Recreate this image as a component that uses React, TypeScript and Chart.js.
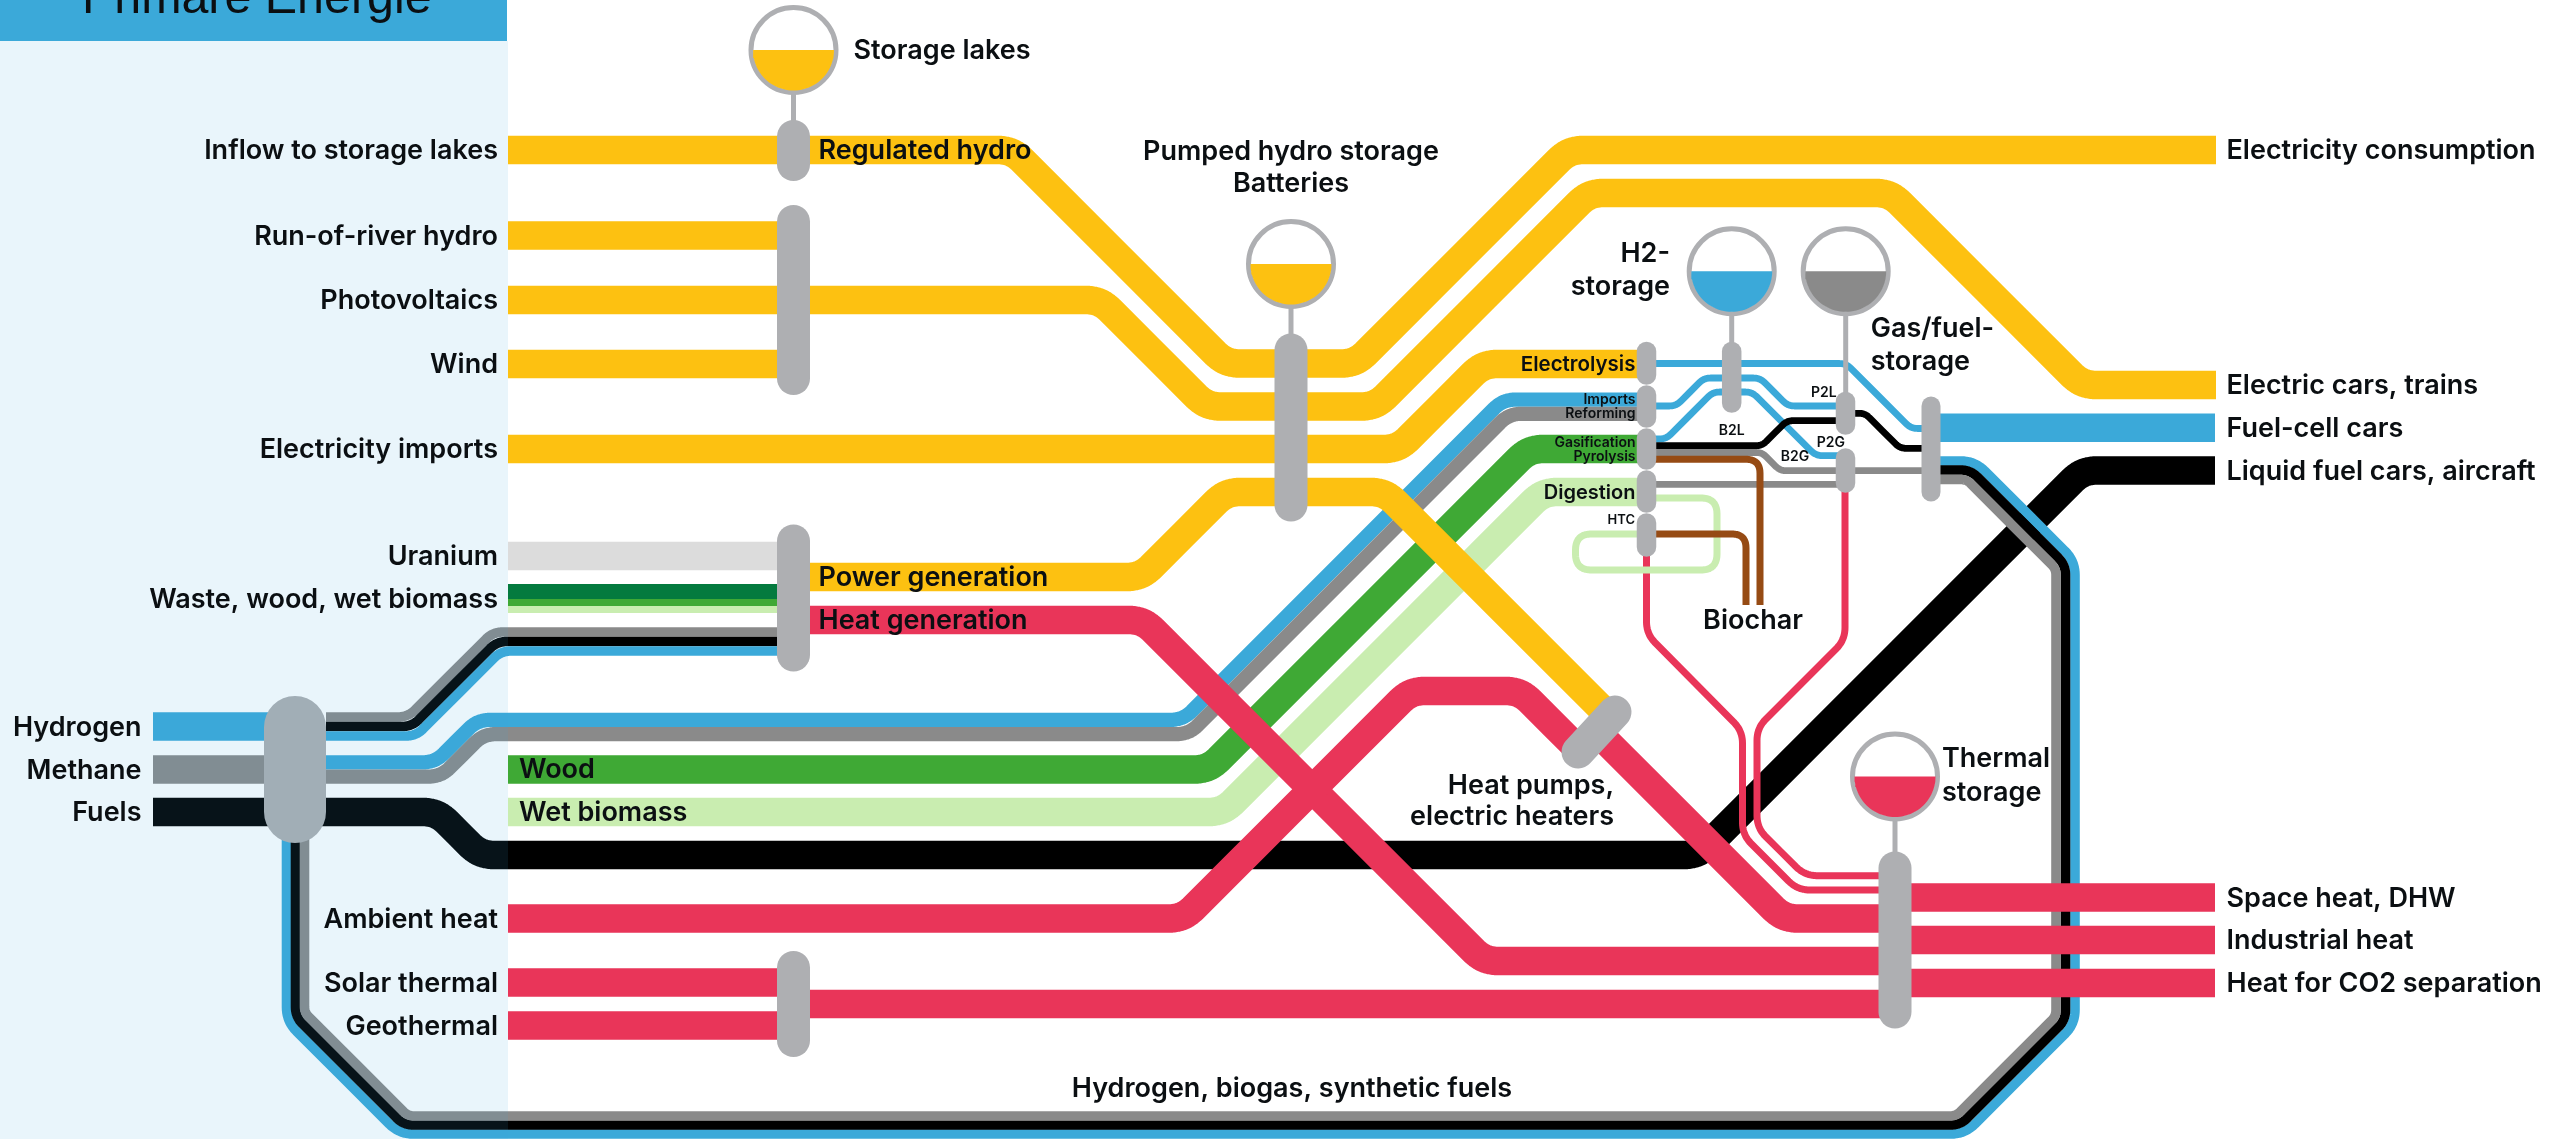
import React, { useEffect, useRef } from "react";
import { Chart, registerables } from "chart.js";

Chart.register(...registerables);

type P = number[];

// ---- flow routes, in chart units ----
const fuelsToLiquid: P[] = [[153, 812], [437, 812], [480, 855], [1698, 855], [2082.5, 470.5], [2215, 470.5]];
const wetBiomass: P[] = [[508, 812], [1223, 812], [1543, 492], [1640, 492]];
const wood: P[] = [[508, 769.5], [1208.5, 769.5], [1529, 449], [1640, 449]];
const methaneBlue: P[] = [[326, 762.4], [435, 762.4], [477.5, 719.9], [1183, 719.9], [1503, 399.6], [1640, 399.6]];
const methaneGrey: P[] = [[326, 776.6], [441, 776.6], [483.5, 734.1], [1189, 734.1], [1509, 413.8], [1640, 413.8]];
const hydrogenIn: P[] = [[153, 726.5], [300, 726.5]];
const methaneIn: P[] = [[153, 769.5], [300, 769.5]];
const powerGrey: P[] = [[326, 717], [408, 717], [493, 632], [790, 632]];
const powerBlack: P[] = [[326, 726.5], [412, 726.5], [497, 641.5], [790, 641.5]];
const powerBlue: P[] = [[326, 736], [416, 736], [501, 651], [790, 651]];
const loopBlue: P[] = [[1935, 461], [1974.8, 461], [2075, 561], [2075, 1023.9], [1964.9, 1134], [399.2, 1134], [286.5, 1021.3], [286.5, 800]];
const loopBlack: P[] = [[1935, 470], [1970.4, 470], [2065.5, 565], [2065.5, 1019.9], [1960.4, 1125], [403.6, 1125], [295.5, 1016.9], [295.5, 800]];
const loopGrey: P[] = [[1935, 479.5], [1966.5, 479.5], [2056, 569], [2056, 1016], [1956, 1116], [408, 1116], [304.5, 1012.5], [304.5, 800]];

const regulatedHydro: P[] = [[508, 150], [1012, 150], [1225.5, 363.5], [1355.5, 363.5], [1569, 150], [2216, 150]];
const solarWindFlow: P[] = [[508, 300], [1100, 300], [1206.5, 406.5], [1375.5, 406.5], [1589, 193], [1890, 193], [2082, 385], [2216, 385]];
const electricityImports: P[] = [[508, 449], [1398, 449], [1483, 364], [1640, 364]];
const powerGeneration: P[] = [[800, 577], [1141, 577], [1226, 492], [1385, 492], [1607, 714]];
const runOfRiver: P[] = [[508, 235.5], [790, 235.5]];
const wind: P[] = [[508, 364], [790, 364]];
const uranium: P[] = [[508, 556], [790, 556]];
const wasteDark: P[] = [[508, 591.5], [790, 591.5]];
const wasteMid: P[] = [[508, 602.5], [790, 602.5]];
const wasteLight: P[] = [[508, 609.5], [790, 609.5]];

const fuelCell: P[] = [[1935, 427.7], [2215, 427.7]];
const h2Line1: P[] = [[1650, 363.5], [1846, 363.5], [1911, 428.5], [1930, 428.5]];
const h2Line2: P[] = [[1650, 406], [1676, 406], [1704, 378], [1760, 378], [1788, 406], [1840, 406]];
const h2Line3: P[] = [[1650, 439], [1666, 439], [1713, 392], [1752, 392], [1816, 455.7], [1840, 455.7]];
const fuelLine1: P[] = [[1650, 445.7], [1762, 445.7], [1787, 420.7], [1840, 420.7]];
const fuelLine2: P[] = [[1850, 413.3], [1865, 413.3], [1900, 448.3], [1930, 448.3]];
const gasLine1: P[] = [[1650, 452.5], [1762, 452.5], [1780, 470.7], [1930, 470.7]];
const gasLine2: P[] = [[1650, 484.3], [1840, 484.3]];
const htcHeat: P[] = [[1646.5, 540], [1646.5, 634], [1742.5, 731], [1742.5, 835], [1797.5, 890], [1885, 890]];
const p2gHeat: P[] = [[1845, 480], [1845, 640], [1757, 728], [1757, 828], [1805, 875.7], [1885, 875.7]];
const digestionLoop: P[] = [[1650, 498], [1717, 498], [1717, 570], [1575.5, 570], [1575.5, 534], [1650, 534]];
const biocharPyrolysis: P[] = [[1650, 459.3], [1760, 459.3], [1760, 605]];
const biocharHtc: P[] = [[1650, 534], [1746, 534], [1746, 605]];

const heatGeneration: P[] = [[800, 620], [1143, 620], [1484, 961], [1885, 961]];
const ambientHeat: P[] = [[508, 918.5], [1183, 918.5], [1410.5, 691], [1520, 691], [1579, 750]];
const heatPumpOut: P[] = [[1597, 732], [1783.5, 918.5], [1885, 918.5]];
const solarThermal: P[] = [[508, 982.5], [790, 982.5]];
const geothermal: P[] = [[508, 1025.5], [790, 1025.5]];
const thermalBus: P[] = [[800, 1004], [1885, 1004]];
const spaceHeat: P[] = [[1900, 897.5], [2215, 897.5]];
const industrialHeat: P[] = [[1900, 940], [2215, 940]];
const co2Heat: P[] = [[1900, 983], [2215, 983]];

// ---- junction bars ----
const junctions: P[][] = [
  [[793.5, 136.5], [793.5, 164.5]],
  [[793.5, 221.5], [793.5, 378.5]],
  [[793.5, 541], [793.5, 655]],
  [[793.5, 967.5], [793.5, 1040.5]],
  [[295, 727], [295, 812]],
  [[1291, 350], [1291, 505]],
  [[1578, 752], [1615, 712]],
  [[1895, 868], [1895, 1012]],
  [[1646.5, 351.5], [1646.5, 375]],
  [[1646.5, 395], [1646.5, 418]],
  [[1646.5, 438], [1646.5, 460]],
  [[1646.5, 480], [1646.5, 503]],
  [[1646.5, 523], [1646.5, 547]],
  [[1731.7, 351.5], [1731.7, 403]],
  [[1845.5, 401.5], [1845.5, 425]],
  [[1845.5, 458], [1845.5, 483]],
  [[1931, 406], [1931, 492]],
];
const junctionWidths = [33, 33, 33, 33, 62, 33, 33, 33, 19.5, 19.5, 19.5, 19.5, 19.5, 19.5, 19.5, 19.5, 19];

// ---- storage tanks: x, y, fill ----
const tankX = [793.5, 1291, 1731.7, 1845.7, 1895];
const tankY = [50, 264, 271.3, 271.3, 776.5];
const tankColors = ["#FDC111", "#FDC111", "#3BA9D9", "#8A8A8A", "#E93559"];
const stems: P[][] = [
  [[793.5, 90], [793.5, 125]],
  [[1291, 305], [1291, 340]],
  [[1731.7, 312], [1731.7, 345]],
  [[1845.7, 312], [1845.7, 395]],
  [[1895, 817], [1895, 856]],
];

// ---- labels ----
const leftPaneLabels: [string, number][] = [
  ["Inflow to storage lakes", 151], ["Run-of-river hydro", 236.5], ["Photovoltaics", 301], ["Wind", 365],
  ["Electricity imports", 450], ["Uranium", 557], ["Waste, wood, wet biomass", 599.5],
  ["Ambient heat", 919.5], ["Solar thermal", 983.5], ["Geothermal", 1026.5],
];
const carrierLabels: [string, number][] = [["Hydrogen", 727.5], ["Methane", 770.5], ["Fuels", 813]];
const outputLabels: [string, number][] = [
  ["Electricity consumption", 151], ["Electric cars, trains", 386], ["Fuel-cell cars", 428.7],
  ["Liquid fuel cars, aircraft", 471.5], ["Space heat, DHW", 898.5], ["Industrial heat", 941],
  ["Heat for CO2 separation", 984],
];
const freeLabels: [string, number, number, string, number][] = [
  ["Storage lakes", 853.5, 51, "left", 27],
  ["Regulated hydro", 818.5, 151, "left", 27],
  ["Power generation", 818.5, 578, "left", 27],
  ["Heat generation", 818.5, 621, "left", 27],
  ["Wood", 519, 770, "left", 27],
  ["Wet biomass", 519, 813, "left", 27],
  ["Pumped hydro storage", 1291, 152, "center", 27],
  ["Batteries", 1291, 184, "center", 27],
  ["H2-", 1670, 254, "right", 27],
  ["storage", 1670, 287, "right", 27],
  ["Gas/fuel-", 1870.7, 329, "left", 27],
  ["storage", 1870.7, 362, "left", 27],
  ["Biochar", 1753, 621, "center", 27],
  ["Thermal", 1942, 759, "left", 27],
  ["storage", 1942, 792.7, "left", 27],
  ["Heat pumps,", 1614, 786, "right", 27],
  ["electric heaters", 1614, 817, "right", 27],
  ["Hydrogen, biogas, synthetic fuels", 1292, 1089, "center", 27],
  ["Electrolysis", 1635.5, 365, "right", 20.5],
  ["Digestion", 1635.5, 493, "right", 20],
  ["Imports", 1635.5, 400, "right", 14],
  ["Reforming", 1635.5, 414.2, "right", 14],
  ["Gasification", 1635.5, 442.5, "right", 14],
  ["Pyrolysis", 1635.5, 457.2, "right", 14],
  ["HTC", 1635, 520.5, "right", 13],
  ["P2L", 1836.7, 392.5, "right", 14],
  ["B2L", 1731.7, 431.2, "center", 14],
  ["P2G", 1845, 442.5, "right", 14],
  ["B2G", 1795, 456.5, "center", 14],
];
const headerTitle = "Primäre Energie";

// ---- styles ----
const YEL = "#FDC111", BLU = "#3BA9D9", GRY = "#8A8A8A", BLK = "#000000", RED = "#E93559";
const GRN = "#3FA935", LGN = "#C9EDB0", DGN = "#047A3E", BRN = "#964B14", PILL = "#AEAFB2";
const FONT = '"Inter", "Open Sans", sans-serif';

// strokes, listed in painting order: route, colour, width, corner radius
const strokes: [P[], string, number, number][] = [
  [fuelsToLiquid, BLK, 28.5, 33],
  [wetBiomass, LGN, 28.5, 33],
  [wood, GRN, 28.5, 33],
  [methaneBlue, BLU, 14.25, 30],
  [methaneGrey, GRY, 14.25, 30],
  [hydrogenIn, BLU, 28.5, 0],
  [methaneIn, GRY, 28.5, 0],
  [powerGrey, GRY, 9.6, 24],
  [powerBlack, BLK, 9.6, 24],
  [powerBlue, BLU, 9.6, 24],
  [loopBlue, BLU, 9.6, 34],
  [loopBlack, BLK, 9.6, 24],
  [loopGrey, GRY, 9.6, 14],
  [regulatedHydro, YEL, 28.5, 33],
  [solarWindFlow, YEL, 28.5, 33],
  [electricityImports, YEL, 28.5, 33],
  [powerGeneration, YEL, 28.5, 33],
  [runOfRiver, YEL, 28.5, 0],
  [wind, YEL, 28.5, 0],
  [uranium, "#DCDCDC", 28.5, 0],
  [wasteDark, DGN, 15, 0],
  [wasteMid, GRN, 7, 0],
  [wasteLight, LGN, 7, 0],
  [fuelCell, BLU, 28.5, 0],
  [h2Line1, BLU, 6.8, 16],
  [h2Line2, BLU, 6.8, 16],
  [h2Line3, BLU, 6.8, 16],
  [fuelLine1, BLK, 6.8, 14],
  [fuelLine2, BLK, 6.8, 14],
  [gasLine1, GRY, 6.8, 14],
  [gasLine2, GRY, 6.8, 0],
  [htcHeat, RED, 7, 30],
  [p2gHeat, RED, 7, 30],
  [digestionLoop, LGN, 7, 16],
  [biocharPyrolysis, BRN, 7, 14],
  [biocharHtc, BRN, 7, 14],
  [heatGeneration, RED, 28.5, 33],
  [ambientHeat, RED, 28.5, 33],
  [heatPumpOut, RED, 28.5, 33],
  [solarThermal, RED, 28.5, 0],
  [geothermal, RED, 28.5, 0],
  [thermalBus, RED, 28.5, 0],
  [spaceHeat, RED, 28.5, 0],
  [industrialHeat, RED, 28.5, 0],
  [co2Heat, RED, 28.5, 0],
];

// Turns a route's corners into a smooth bend, the way a metro map does.
function bend(route: P[], radius: number) {
  const out: { x: number; y: number }[] = [];
  route.forEach((p, i) => {
    if (i === 0 || i === route.length - 1 || radius === 0) {
      out.push({ x: p[0], y: p[1] });
      return;
    }
    const a = route[i - 1], c = route[i + 1];
    const ux = a[0] - p[0], uy = a[1] - p[1], vx = c[0] - p[0], vy = c[1] - p[1];
    const lu = Math.hypot(ux, uy), lv = Math.hypot(vx, vy);
    const cos = (ux * vx + uy * vy) / (lu * lv);
    const theta = Math.PI - Math.acos(Math.max(-1, Math.min(1, cos)));
    const t = Math.min(radius * Math.tan(theta / 2), lu / 2, lv / 2);
    const s = [p[0] + (ux / lu) * t, p[1] + (uy / lu) * t];
    const e = [p[0] + (vx / lv) * t, p[1] + (vy / lv) * t];
    for (let k = 0; k <= 10; k++) {
      const q = k / 10;
      out.push({
        x: (1 - q) * (1 - q) * s[0] + 2 * q * (1 - q) * p[0] + q * q * e[0],
        y: (1 - q) * (1 - q) * s[1] + 2 * q * (1 - q) * p[1] + q * q * e[1],
      });
    }
  });
  return out;
}

function liquid(cx: number, cy: number, r: number) {
  const pts: { x: number; y: number }[] = [];
  for (let k = 0; k <= 48; k++) {
    const a = (Math.PI * k) / 48;
    pts.push({ x: cx + r * Math.cos(a), y: cy + r * Math.sin(a) });
  }
  pts.push({ x: cx + r, y: cy });
  return pts;
}

const lineBase = { showLine: true, pointRadius: 0, pointHitRadius: 0, tension: 0.0001, borderJoinStyle: "round", fill: false };

function buildDatasets() {
  const ds: any[] = [];
  strokes.forEach(([route, color, width, radius]) =>
    ds.push({ ...lineBase, data: bend(route, radius), borderColor: color, borderWidth: width, borderCapStyle: "butt" })
  );
  stems.forEach((route) =>
    ds.push({ ...lineBase, data: bend(route, 0), borderColor: PILL, borderWidth: 5, borderCapStyle: "butt" })
  );
  junctions.forEach((route, i) =>
    ds.push({ ...lineBase, data: bend(route, 0), borderColor: PILL, borderWidth: junctionWidths[i], borderCapStyle: "round" })
  );
  tankX.forEach((x, i) => {
    ds.push({
      showLine: false,
      data: [{ x, y: tankY[i] }],
      pointStyle: "circle",
      pointRadius: 42.5,
      pointBorderWidth: 5,
      pointBorderColor: PILL,
      pointBackgroundColor: "#FFFFFF",
    });
    ds.push({
      showLine: true,
      pointRadius: 0,
      tension: 0,
      borderWidth: 0,
      data: liquid(x, tankY[i], 40.5),
      fill: "shape",
      backgroundColor: tankColors[i],
    });
  });
  ds.forEach((d, i) => (d.order = -i));
  return ds;
}

const overlay = {
  id: "overlay",
  afterDatasetsDraw(chart: any) {
    const { ctx, scales } = chart;
    const X = (v: number) => scales.x.getPixelForValue(v);
    const Y = (v: number) => scales.y.getPixelForValue(v);
    ctx.save();
    ctx.fillStyle = "rgba(59,169,217,0.112)";
    ctx.fillRect(X(0), Y(41), X(508) - X(0), Y(1139) - Y(41));
    ctx.fillStyle = BLU;
    ctx.fillRect(X(0), Y(0), X(507) - X(0), Y(41) - Y(0));

    const ink = "#0B0F12";
    ctx.fillStyle = ink;
    ctx.textBaseline = "alphabetic";
    ctx.textAlign = "left";
    ctx.font = '48.4px "Liberation Sans", sans-serif';
    ctx.fillText(headerTitle, X(82), Y(13));

    const put = (t: string, x: number, y: number, align: string, size: number) => {
      ctx.font = `600 ${size}px ${FONT}`;
      ctx.textAlign = align;
      ctx.textBaseline = "middle";
      ctx.fillText(t, X(x), Y(y));
    };
    leftPaneLabels.forEach(([t, y]) => put(t, 498, y, "right", 27));
    carrierLabels.forEach(([t, y]) => put(t, 141.5, y, "right", 27));
    outputLabels.forEach(([t, y]) => put(t, 2226.5, y, "left", 27));
    freeLabels.forEach(([t, x, y, a, s]) => put(t, x, y, a, s));
    ctx.restore();
  },
};

export default function App() {
  const ref = useRef<HTMLCanvasElement>(null);
  useEffect(() => {
    const chart = new Chart(ref.current as HTMLCanvasElement, {
      type: "scatter",
      data: { datasets: buildDatasets() },
      options: {
        animation: false,
        responsive: false,
        devicePixelRatio: 1,
        layout: { padding: 0, autoPadding: false },
        events: [],
        plugins: { legend: { display: false }, tooltip: { enabled: false }, title: { display: false } },
        scales: {
          x: { type: "linear", min: 0, max: 2554, display: false },
          y: { type: "linear", min: 0, max: 1139, reverse: true, display: false },
        },
      },
      plugins: [overlay],
    } as any);
    return () => chart.destroy();
  }, []);
  return (
    <div style={{ position: "absolute", left: 0, top: 0, width: 2554, height: 1139, overflow: "hidden", background: "#fff" }}>
      <canvas ref={ref} width={2554} height={1139} style={{ display: "block" }} />
    </div>
  );
}
